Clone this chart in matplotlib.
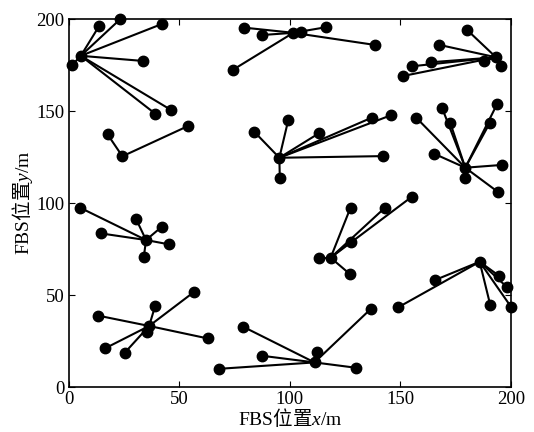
import matplotlib.pyplot as plt

plt.rcParams['font.family'] = ['Liberation Serif', 'Noto Sans CJK SC']
plt.rcParams['mathtext.fontset'] = 'custom'
plt.rcParams['mathtext.rm'] = 'Liberation Serif'
plt.rcParams['mathtext.it'] = 'Liberation Serif:italic'

# cluster heads (FBS positions)
head_x = [5.4, 24.2, 101.5, 193.2, 95.2, 179.3, 34.9, 36.3, 111.1, 118.4, 185.8]
head_y = [180.0, 125.4, 192.5, 179.2, 124.6, 119.2, 79.9, 33.2, 13.4, 70.3, 68.1]

# members of each cluster
member_x = [
    [1.5, 13.8, 23.3, 42.3, 33.6, 39.1, 46.3],
    [17.5, 53.8],
    [79.4, 87.4, 74.2, 105.2, 116.1, 138.5],
    [180.0, 167.3, 163.7, 155.1, 151.0, 187.9, 195.5],
    [99.2, 83.8, 95.4, 113.1, 137.0, 145.9, 142.1],
    [157.1, 168.9, 172.5, 165.2, 193.7, 190.3, 195.8, 179.1, 194.0],
    [5.0, 14.5, 30.4, 42.0, 45.5, 33.9],
    [13.3, 56.5, 39.0, 62.9, 16.3, 25.3, 35.2],
    [78.8, 87.4, 67.7, 112.3, 129.8, 136.5],
    [113.2, 127.4, 127.4, 143.0, 155.1, 127.1],
    [165.7, 148.9, 194.4, 198.0, 190.6, 200.0],
]
member_y = [
    [175.0, 196.4, 200.0, 197.4, 177.2, 148.5, 150.5],
    [137.3, 141.8],
    [195.3, 191.3, 172.4, 192.8, 195.5, 185.9],
    [194.2, 186.0, 176.5, 174.3, 169.0, 177.3, 174.3],
    [144.9, 138.8, 113.8, 137.9, 146.4, 147.8, 125.5],
    [146.4, 151.4, 143.6, 126.8, 153.8, 143.3, 120.7, 113.4, 106.1],
    [97.5, 83.5, 91.3, 87.1, 77.5, 70.8],
    [38.8, 51.6, 44.0, 26.4, 21.0, 18.7, 30.1],
    [32.8, 17.0, 9.9, 18.8, 10.5, 42.4],
    [70.3, 97.5, 79.0, 97.5, 103.4, 61.4],
    [58.2, 43.3, 60.6, 54.5, 44.6, 43.6],
]

fig = plt.figure(figsize=(5.34, 4.32), dpi=100)
ax = fig.add_axes([0.129, 0.104, 0.828, 0.852])

for hx, hy, mx, my in zip(head_x, head_y, member_x, member_y):
    for x, y in zip(mx, my):
        ax.plot([hx, x], [hy, y], 'k-', lw=1.5, clip_on=False)
    ax.plot(mx, my, 'ko', ms=7.5, clip_on=False, zorder=3)
    ax.plot(hx, hy, 'ko', ms=7.5, clip_on=False, zorder=3)

ax.set_xlim(0, 200)
ax.set_ylim(0, 200)
ax.set_xticks([0, 50, 100, 150, 200])
ax.set_yticks([0, 50, 100, 150, 200])
ax.tick_params(direction='in', top=True, right=True, labelsize=13.5, length=4, pad=3)
for s in ax.spines.values():
    s.set_linewidth(1.2)

ax.set_xlabel(r'$\mathrm{FBS}$位置$x/\mathrm{m}$', fontsize=14,
              family='Noto Sans CJK SC', labelpad=-1)
ax.set_ylabel(r'$\mathrm{FBS}$位置$y/\mathrm{m}$', fontsize=14,
              family='Noto Sans CJK SC', labelpad=1)

plt.savefig('out.png', dpi=100)
